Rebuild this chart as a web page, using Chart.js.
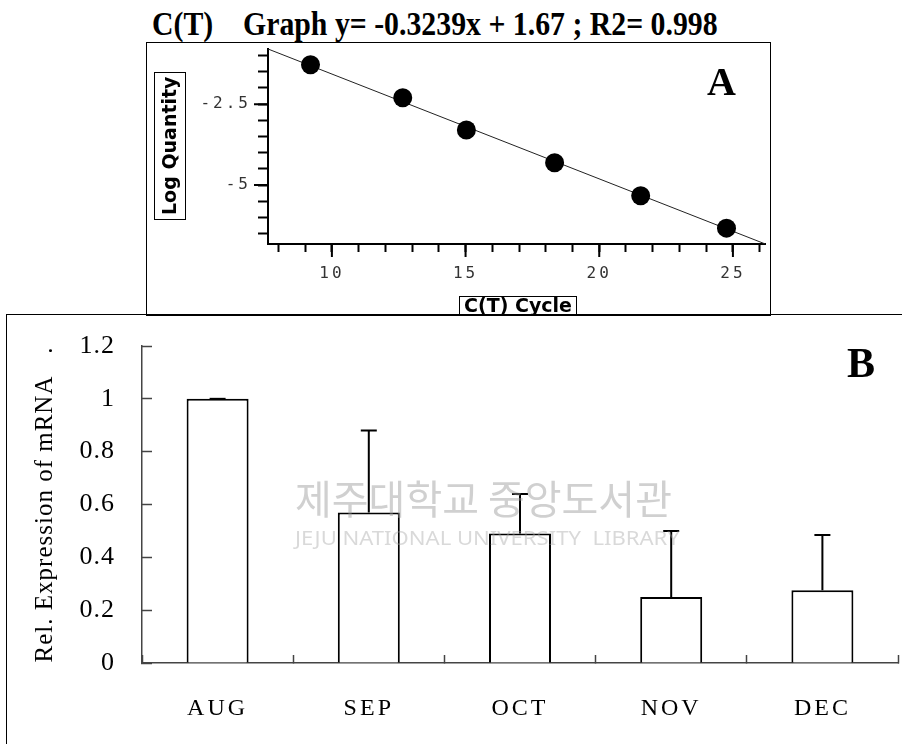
<!DOCTYPE html>
<html>
<head>
<meta charset="utf-8">
<script src="https://cdn.jsdelivr.net/npm/chart.js@4.4.1/dist/chart.umd.min.js"></script>
<style>
  body { margin: 0; width: 902px; height: 744px; overflow: hidden; background: #fff; position: relative; }
  .abs { position: absolute; white-space: pre; line-height: 1; }
  #boxA { left: 146px; top: 42px; width: 625px; height: 274px; border: 1.5px solid #000; box-sizing: border-box; }
  #boxB { left: 6px; top: 314px; width: 910px; height: 450px; border: 1.5px solid #000; box-sizing: border-box; }
  #chartA { position: absolute; left: 147px; top: 43px; }
  #chartB { position: absolute; left: 7px; top: 315px; }
  #title { left: 152px; top: 5px; font: bold 34px "Liberation Serif", serif; transform-origin: 0 0; }
  .panel { font: bold 40px "Liberation Serif", serif; }
  .boxed { font: bold 19px "DejaVu Sans", sans-serif; border: 1.5px solid #000; box-sizing: border-box; text-align: center; background: #fff; }
  #logq { left: 154px; top: 72px; width: 32px; height: 148px; writing-mode: vertical-rl; transform: rotate(180deg); line-height: 29px; }
  #ctc { left: 459px; top: 296px; width: 118px; height: 19px; line-height: 17px; }
  .wm { color: rgba(150,150,150,0.45); transform-origin: 0 0; pointer-events: none; }
  #wmKo { left: 295px; top: 468px; font: 40px "Noto Sans CJK KR", sans-serif; }
  #wmEn { left: 295px; top: 524px; font: 20px "Noto Sans", sans-serif; color: rgba(160,160,160,0.4); }
</style>
</head>
<body>
<div id="boxA" class="abs"></div>
<div id="boxB" class="abs"></div>
<canvas id="chartA" width="623" height="270"></canvas>
<canvas id="chartB" width="895" height="429"></canvas>
<div id="title" class="abs">C(T)    Graph y= -0.3239x + 1.67 ; R2= 0.998</div>
<div class="abs panel" style="left:707px;top:58px">A</div>
<div class="abs panel" style="left:847px;top:339px;font-size:42px">B</div>
<div id="logq" class="abs boxed">Log Quantity</div>
<div id="ctc" class="abs boxed">C(T) Cycle</div>
<div id="wmKo" class="abs wm">제주대학교 중앙도서관</div>
<div id="wmEn" class="abs wm">JEJU NATIONAL UNIVERSITY  LIBRARY</div>
<script>
// panel A: standard curve
const ctCycle = [9.2, 12.65, 15.03, 18.33, 21.55, 24.76];
const logQty = [-1.28, -2.30, -3.30, -4.31, -5.33, -6.33];
const slope = -0.3239;
const intercept = 1.67;
const xRange = [7.61, 26.2];
const yRange = [-6.82, -0.795];
const xLabelTicks = [10, 15, 20, 25];
const yLabelTicks = [-2.5, -5];

// panel B: relative expression
const months = ['AUG', 'SEP', 'OCT', 'NOV', 'DEC'];
const relExpr = [1.0, 0.57, 0.49, 0.25, 0.275];
const relErr = [0, 0.31, 0.15, 0.25, 0.21];

function fitWidth(id, w) {
  const el = document.getElementById(id);
  el.style.transform = 'scaleX(' + (w / el.offsetWidth) + ')';
}
fitWidth('title', 566);
fitWidth('wmKo', 377);
fitWidth('wmEn', 385);

function noPad(s) {
  s.paddingTop = 0; s.paddingBottom = 0; s.paddingLeft = 0; s.paddingRight = 0;
}

const majorTicks = {
  id: 'majorTicks',
  beforeDraw(chart) { chart.ctx.letterSpacing = '3px'; },
  afterDraw(chart) {
    const { ctx, scales: { x, y } } = chart;
    ctx.save();
    ctx.strokeStyle = '#000';
    ctx.lineWidth = 2;
    ctx.beginPath();
    xLabelTicks.forEach(v => {
      const px = x.getPixelForValue(v);
      ctx.moveTo(px, x.top);
      ctx.lineTo(px, x.top + 13);
    });
    yLabelTicks.forEach(v => {
      const py = y.getPixelForValue(v);
      ctx.moveTo(y.right, py);
      ctx.lineTo(y.right - 14, py);
    });
    ctx.stroke();
    ctx.restore();
  }
};

const fitLine = xRange.map(x => ({ x: x, y: slope * x + intercept }));

new Chart(document.getElementById('chartA'), {
  type: 'scatter',
  data: {
    datasets: [
      {
        data: ctCycle.map((x, i) => ({ x: x, y: logQty[i] })),
        backgroundColor: '#000',
        borderWidth: 0,
        pointRadius: 9.5,
        order: 1
      },
      {
        type: 'line',
        data: fitLine,
        borderColor: '#222',
        borderWidth: 1,
        pointRadius: 0,
        order: 2
      }
    ]
  },
  options: {
    responsive: false,
    devicePixelRatio: 1,
    animation: false,
    layout: { autoPadding: false, padding: { left: 0, top: 6, right: 5, bottom: 0 } },
    plugins: { legend: { display: false }, tooltip: { enabled: false } },
    scales: {
      x: {
        type: 'linear', min: xRange[0], max: xRange[1],
        grid: { drawOnChartArea: false, tickLength: 8, tickWidth: 2, tickColor: '#000' },
        border: { color: '#000', width: 2 },
        ticks: {
          stepSize: 1, includeBounds: false, autoSkip: false, maxRotation: 0, padding: 12,
          color: '#333', font: { family: 'DejaVu Sans Mono', size: 16 },
          callback: v => xLabelTicks.includes(v) ? String(v) : ''
        },
        afterFit: s => { s.height = 69; noPad(s); }
      },
      y: {
        min: yRange[0], max: yRange[1],
        grid: { drawOnChartArea: false, tickLength: 10, tickWidth: 2, tickColor: '#000' },
        border: { color: '#000', width: 2 },
        ticks: {
          stepSize: 0.5, includeBounds: false, autoSkip: false, padding: 7,
          color: '#333', font: { family: 'DejaVu Sans Mono', size: 16 },
          callback: v => yLabelTicks.includes(v) ? String(v) : ''
        },
        afterFit: s => { s.width = 121; noPad(s); }
      }
    }
  },
  plugins: [majorTicks]
});

const errorBars = {
  id: 'errorBars',
  beforeDraw(chart) { chart.ctx.letterSpacing = '1px'; },
  afterDatasetsDraw(chart) {
    const { ctx, scales: { y } } = chart;
    const meta = chart.getDatasetMeta(0);
    ctx.save();
    ctx.strokeStyle = '#000';
    ctx.lineWidth = 2;
    meta.data.forEach((bar, i) => {
      const top = y.getPixelForValue(relExpr[i] + relErr[i]);
      ctx.beginPath();
      ctx.moveTo(bar.x, bar.y);
      ctx.lineTo(bar.x, top);
      ctx.moveTo(bar.x - 8, top);
      ctx.lineTo(bar.x + 8, top);
      ctx.stroke();
    });
    ctx.restore();
    // month labels are drawn after this (ticks z: 1) and are letter-spaced
    ctx.letterSpacing = '3px';
  }
};

new Chart(document.getElementById('chartB'), {
  type: 'bar',
  data: {
    labels: months,
    datasets: [{
      data: relExpr,
      backgroundColor: '#fff',
      borderColor: '#000',
      borderWidth: 2,
      barPercentage: 0.41,
      categoryPercentage: 1
    }]
  },
  options: {
    responsive: false,
    devicePixelRatio: 1,
    animation: false,
    layout: { autoPadding: false, padding: { left: 0, top: 31, right: 4, bottom: 0 } },
    plugins: { legend: { display: false }, tooltip: { enabled: false } },
    scales: {
      x: {
        grid: { drawOnChartArea: false, tickLength: -8, tickWidth: 1.5, tickColor: '#444', offset: true },
        border: { color: '#444', width: 1.5 },
        ticks: { z: 1, padding: 39, color: '#000', font: { family: 'Liberation Serif', size: 24 } },
        afterFit: s => { s.height = 81; noPad(s); }
      },
      y: {
        min: 0, max: 1.2,
        grid: { drawOnChartArea: false, tickLength: -10, tickWidth: 1.5, tickColor: '#444' },
        border: { color: '#444', width: 1.5 },
        ticks: {
          stepSize: 0.2, padding: 37, color: '#000', font: { family: 'Liberation Serif', size: 26 },
          callback: v => String(Math.round(v * 10) / 10)
        },
        title: {
          display: true, text: 'Rel. Expression of mRNA   .', color: '#000',
          font: { family: 'Liberation Serif', size: 25 }, padding: { top: 23, bottom: 0 }
        },
        afterFit: s => { s.width = 135; noPad(s); }
      }
    }
  },
  plugins: [errorBars]
});
</script>
</body>
</html>
